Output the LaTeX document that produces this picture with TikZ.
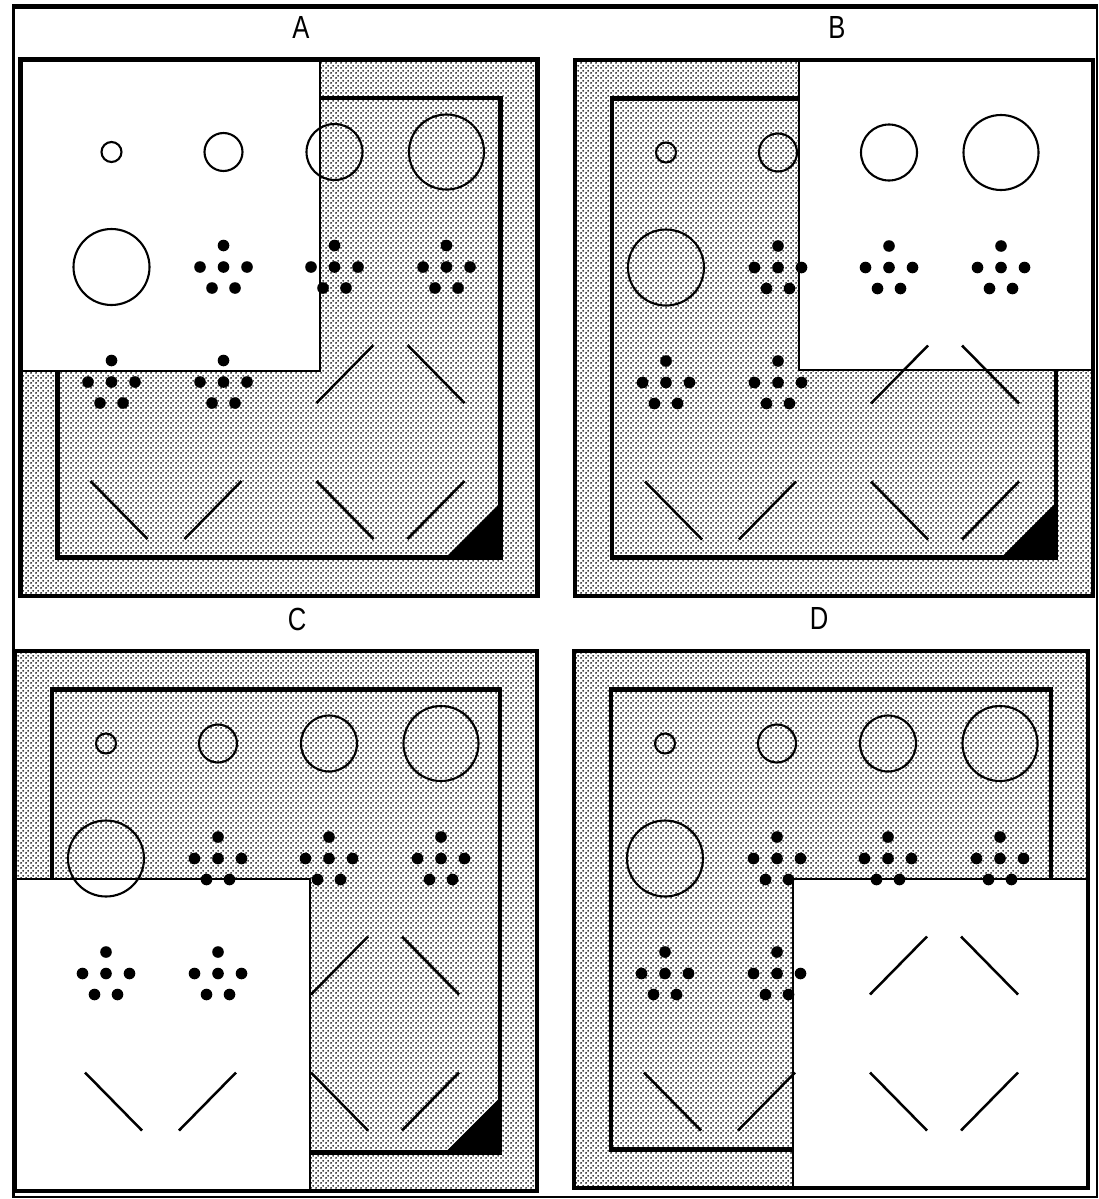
\documentclass[tikz,border=0pt]{standalone}
\usepackage{graphicx}
\usepackage{fontspec}
\setmainfont{Liberation Sans}
\usetikzlibrary{patterns}
\pgfdeclarepatternformonly{stipple}{\pgfqpoint{0pt}{0pt}}{\pgfqpoint{5pt}{5pt}}{\pgfqpoint{5pt}{5pt}}{%
  \pgfpathcircle{\pgfqpoint{1.25pt}{1.25pt}}{1.1pt}%
  \pgfpathcircle{\pgfqpoint{3.75pt}{3.75pt}}{1.1pt}%
  \pgfusepath{fill}}
\tikzset{
  thickline/.style={line width=4.5pt},
  thinline/.style={line width=2pt},
  ring/.style={line width=2.1pt},
  seg/.style={line width=2.5pt},
  lbl/.style={font=\fontsize{32}{32}\selectfont, inner sep=0pt},
  stipfill/.style={pattern=stipple, pattern color=black},
}
\newcommand\dotcluster[2]{%
  \foreach \dx/\dy in {0/-21.5,-23.5/0,0/0,23.5/0,-11.5/21,11.5/21}
    \fill ({#1+\dx},{#2+\dy}) circle (5.8);
}
\newcommand\drawpanel[8]{%
  \fill[white] (#1,#2) rectangle (#3,#4);
  \fill[stipfill] (#1,#2) rectangle (#3,#4);
  \pgfmathsetmacro\ixa{#1+37}\pgfmathsetmacro\iya{#2+38.5}%
  \pgfmathsetmacro\ixb{#3-37}\pgfmathsetmacro\iyb{#4-38.5}%
  \draw[thickline] (\ixa,\iya) rectangle (\ixb,\iyb);
  \fill (\ixb-55,\iyb) -- (\ixb,\iyb) -- (\ixb,\iyb-55) -- cycle;
  \draw[thinline, fill=white] (#5,#6) rectangle (#7,#8);
  \begin{scope}[shift={(\ixa,\iya)}]
    \draw[ring] (54,54) circle (10);
    \draw[ring] (166,54) circle (19);
    \draw[ring] (277,54) circle (28);
    \draw[ring] (389,54) circle (37.5);
    \draw[ring] (54,169) circle (38);
    \dotcluster{166}{169}\dotcluster{277}{169}\dotcluster{389}{169}
    \dotcluster{54}{284}\dotcluster{166}{284}
    \draw[seg] (259,305) -- (316,247);
    \draw[seg] (350,247) -- (407,305);
    \draw[seg] (259,383) -- (316,441);
    \draw[seg] (350,441) -- (407,383);
    \draw[seg] (33,383) -- (90,441);
    \draw[seg] (127,441) -- (184,383);
  \end{scope}
  \draw[thickline] (#1,#2) rectangle (#3,#4);
}
\begin{document}
\begin{tikzpicture}[x=1pt,y=-1pt]
\useasboundingbox[fill=white] (0,0) rectangle (1098,1199);
% outer frame
\draw[line width=5pt] (12,6.5) -- (1098,6.5);
\draw[line width=3pt] (13.5,5) -- (13.5,1197.5);
\draw[line width=2pt] (13,1197) -- (1096.5,1197);
\draw[line width=2pt] (1096.5,5) -- (1096.5,1198);
% panels
\drawpanel{20.5}{59.5}{537.5}{596}{20.5}{59.5}{320}{371}
\drawpanel{575}{60}{1093}{596}{799}{60}{1093}{370}
\drawpanel{15}{651}{537}{1191}{15}{879}{310}{1191}
\drawpanel{574}{651}{1088}{1188}{793}{879}{1088}{1188}
% labels
\node[lbl] (labA) at (301,27) {\scalebox{0.8}[1]{A}};
\node[lbl] (labB) at (837,27) {\scalebox{0.8}[1]{B}};
\node[lbl] (labC) at (297,619) {\scalebox{0.8}[1]{C}};
\node[lbl] (labD) at (819,618) {\scalebox{0.8}[1]{D}};
\end{tikzpicture}
\end{document}
